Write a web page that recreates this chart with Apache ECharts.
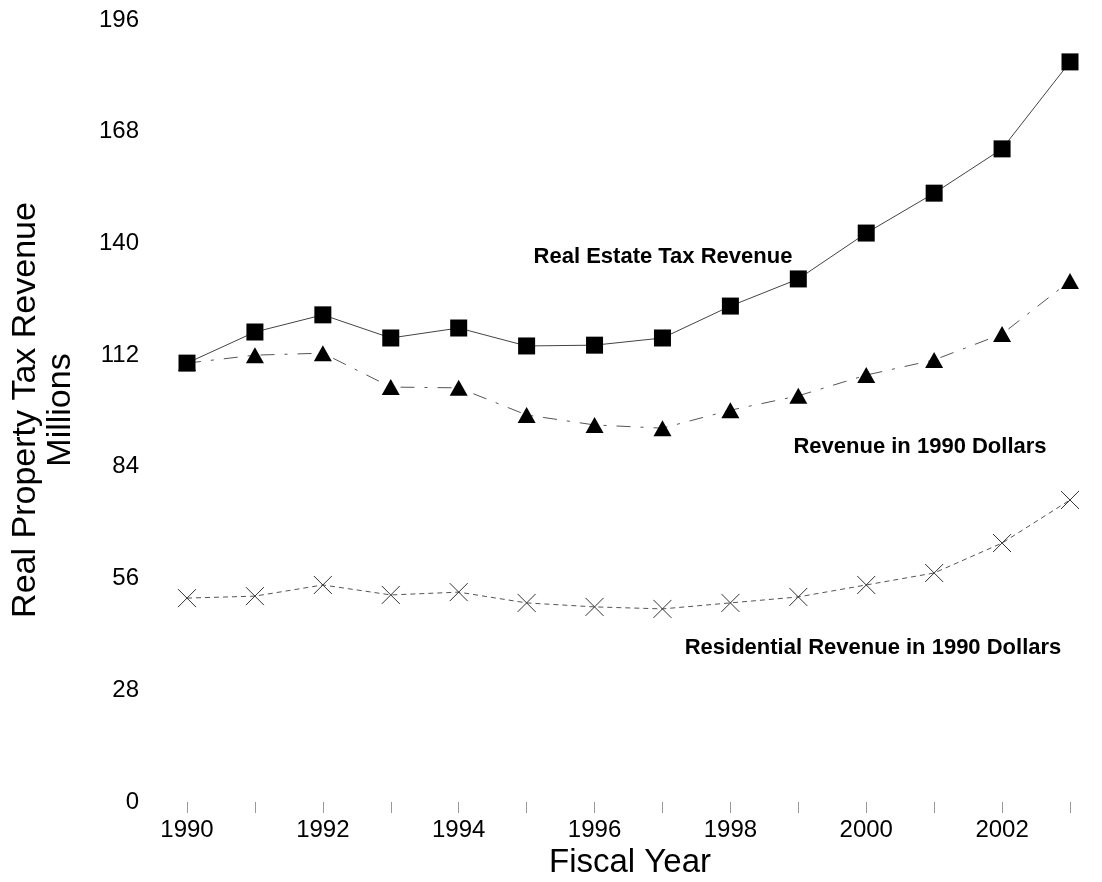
<!DOCTYPE html>
<html>
<head>
<meta charset="utf-8">
<script src="https://cdn.jsdelivr.net/npm/echarts@6/dist/echarts.min.js"></script>
<style>html,body{margin:0;padding:0;background:#fff}#c{width:1102px;height:882px}</style>
</head>
<body>
<div id="c"></div>
<script>
const years = [1990,1991,1992,1993,1994,1995,1996,1997,1998,1999,2000,2001,2002,2003];
const realEstate = [110.0,117.8,122.1,116.3,118.8,114.3,114.5,116.3,124.3,131.1,142.6,152.6,163.7,185.5];
const revenue1990 = [110.0,112.0,112.5,104.0,103.8,97.0,94.5,93.7,98.2,101.8,107.0,110.8,117.3,130.6];
const residential1990 = [51.1,51.6,54.4,51.9,52.6,49.9,48.9,48.4,49.9,51.4,54.4,57.4,64.9,75.7];
const yTicks = [0,28,56,84,112,140,168,196];
const seriesNames = ['Real Estate Tax Revenue','Revenue in 1990 Dollars','Residential Revenue in 1990 Dollars'];

const font = '"Liberation Sans", Arial, Helvetica, sans-serif';
const pairs = arr => arr.map((v,i)=>[years[i], v]);

const chart = echarts.init(document.getElementById('c'));
chart.setOption({
  animation: false,
  backgroundColor: '#fff',
  grid: {left: 187, right: 32, top: 20, bottom: 80},
  xAxis: {
    type: 'value', min: 1990, max: 2003, interval: 1,
    axisLine: {show: false},
    axisTick: {show: true, length: 11, lineStyle: {color: '#999', width: 1}},
    splitLine: {show: false},
    axisLabel: {
      color: '#000', fontSize: 24, fontFamily: font, margin: 16,
      formatter: v => (v % 2 === 0 ? String(v) : '')
    }
  },
  yAxis: {
    type: 'value', min: yTicks[0], max: yTicks[yTicks.length-1], interval: 28,
    axisLine: {show: false}, axisTick: {show: false}, splitLine: {show: false},
    axisLabel: {color: '#000', fontSize: 24, fontFamily: font, margin: 48}
  },
  graphic: [
    {type: 'text', x: 630, y: 863, style: {text: 'Fiscal Year', font: '33px ' + font, fill: '#000', align: 'center', verticalAlign: 'middle'}},
    {type: 'text', x: 43, y: 410, rotation: Math.PI/2, style: {text: 'Real Property Tax Revenue\nMillions', font: '34px ' + font, fill: '#000', align: 'center', verticalAlign: 'middle', lineHeight: 35}},
    {type: 'text', x: 663, y: 257, style: {text: seriesNames[0], font: 'bold 22px ' + font, fill: '#000', align: 'center', verticalAlign: 'middle'}},
    {type: 'text', x: 920, y: 447, style: {text: seriesNames[1], font: 'bold 22px ' + font, fill: '#000', align: 'center', verticalAlign: 'middle'}},
    {type: 'text', x: 873, y: 648, style: {text: seriesNames[2], font: 'bold 22px ' + font, fill: '#000', align: 'center', verticalAlign: 'middle'}}
  ],
  series: [
    {
      name: seriesNames[2], type: 'line', data: pairs(residential1990),
      symbol: 'path://M0,0L10,10M10,0L0,10', symbolSize: 18,
      itemStyle: {color: 'rgba(0,0,0,0)', borderColor: '#333', borderWidth: 1},
      lineStyle: {color: '#555', width: 1, type: [5,4]}, z: 3
    },
    {
      name: seriesNames[1], type: 'line', data: pairs(revenue1990),
      symbol: 'triangle', symbolSize: [18,16],
      itemStyle: {color: '#000'},
      lineStyle: {color: '#555', width: 1, type: [14,10,3,10]}, z: 4
    },
    {
      name: seriesNames[0], type: 'line', data: pairs(realEstate),
      symbol: 'rect', symbolSize: 17,
      itemStyle: {color: '#000'},
      lineStyle: {color: '#444', width: 1}, z: 5
    }
  ]
});
</script>
</body>
</html>
